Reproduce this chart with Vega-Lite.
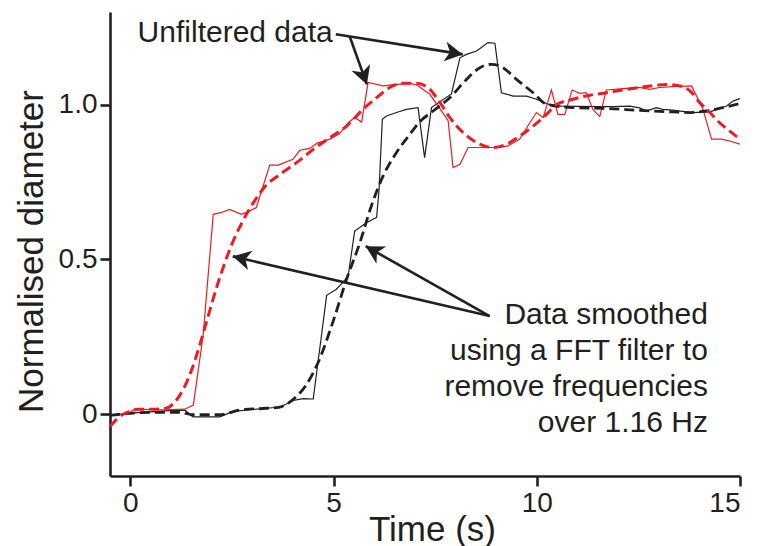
{
  "$schema": "https://vega.github.io/schema/vega-lite/v6.json",
  "width": 630,
  "height": 464,
  "autosize": "none",
  "padding": {"left": 110, "top": 12, "right": 19, "bottom": 70},
  "config": {
    "view": {"stroke": null},
    "font": "Liberation Sans",
    "axis": {
      "grid": false,
      "domainColor": "#231f20",
      "domainWidth": 2.6,
      "tickColor": "#231f20",
      "tickWidth": 2.6,
      "tickSize": 10,
      "labelColor": "#231f20",
      "labelFont": "Liberation Sans",
      "labelFontSize": 28,
      "labelPadding": 3,
      "titleColor": "#231f20",
      "titleFont": "Liberation Sans",
      "titleFontSize": 35,
      "titleFontWeight": "normal"
    }
  },
  "datasets": {
    "curves": [
      {"series": "black_raw", "t": -0.5, "d": -0.004},
      {"series": "black_raw", "t": 0, "d": 0.003},
      {"series": "black_raw", "t": 0.6, "d": 0.008},
      {"series": "black_raw", "t": 1.05, "d": 0.012},
      {"series": "black_raw", "t": 1.35, "d": 0.012},
      {"series": "black_raw", "t": 1.54, "d": -0.009},
      {"series": "black_raw", "t": 2.2, "d": -0.009},
      {"series": "black_raw", "t": 2.53, "d": 0.009},
      {"series": "black_raw", "t": 3.0, "d": 0.015},
      {"series": "black_raw", "t": 3.35, "d": 0.019},
      {"series": "black_raw", "t": 3.69, "d": 0.023},
      {"series": "black_raw", "t": 4.01, "d": 0.044},
      {"series": "black_raw", "t": 4.25, "d": 0.05},
      {"series": "black_raw", "t": 4.5, "d": 0.049},
      {"series": "black_raw", "t": 4.62, "d": 0.17},
      {"series": "black_raw", "t": 4.83, "d": 0.384},
      {"series": "black_raw", "t": 5.07, "d": 0.404},
      {"series": "black_raw", "t": 5.23, "d": 0.426},
      {"series": "black_raw", "t": 5.36, "d": 0.447},
      {"series": "black_raw", "t": 5.52, "d": 0.592},
      {"series": "black_raw", "t": 5.81, "d": 0.619},
      {"series": "black_raw", "t": 6.06, "d": 0.636},
      {"series": "black_raw", "t": 6.12, "d": 0.727},
      {"series": "black_raw", "t": 6.2, "d": 0.953},
      {"series": "black_raw", "t": 6.3, "d": 0.964},
      {"series": "black_raw", "t": 6.55, "d": 0.975},
      {"series": "black_raw", "t": 6.79, "d": 0.985},
      {"series": "black_raw", "t": 7.08, "d": 0.991},
      {"series": "black_raw", "t": 7.24, "d": 0.829},
      {"series": "black_raw", "t": 7.41, "d": 0.991},
      {"series": "black_raw", "t": 7.9, "d": 1.035},
      {"series": "black_raw", "t": 8.11, "d": 1.152},
      {"series": "black_raw", "t": 8.27, "d": 1.163},
      {"series": "black_raw", "t": 8.52, "d": 1.174},
      {"series": "black_raw", "t": 8.8, "d": 1.201},
      {"series": "black_raw", "t": 8.97, "d": 1.199},
      {"series": "black_raw", "t": 9.13, "d": 1.039},
      {"series": "black_raw", "t": 9.42, "d": 1.028},
      {"series": "black_raw", "t": 9.75, "d": 1.028},
      {"series": "black_raw", "t": 9.99, "d": 1.018},
      {"series": "black_raw", "t": 10.28, "d": 1.002},
      {"series": "black_raw", "t": 10.6, "d": 0.996},
      {"series": "black_raw", "t": 11.0, "d": 0.995},
      {"series": "black_raw", "t": 11.5, "d": 0.994},
      {"series": "black_raw", "t": 11.88, "d": 0.994},
      {"series": "black_raw", "t": 12.29, "d": 0.996},
      {"series": "black_raw", "t": 12.53, "d": 0.99},
      {"series": "black_raw", "t": 12.7, "d": 0.98},
      {"series": "black_raw", "t": 12.94, "d": 0.991},
      {"series": "black_raw", "t": 13.1, "d": 0.985},
      {"series": "black_raw", "t": 13.35, "d": 0.983},
      {"series": "black_raw", "t": 13.81, "d": 0.975},
      {"series": "black_raw", "t": 14.26, "d": 0.977},
      {"series": "black_raw", "t": 14.67, "d": 0.996},
      {"series": "black_raw", "t": 14.83, "d": 1.012},
      {"series": "black_raw", "t": 15.0, "d": 1.02},

      {"series": "red_raw", "t": 0.0, "d": 0.008},
      {"series": "red_raw", "t": 0.11, "d": 0.016},
      {"series": "red_raw", "t": 0.5, "d": 0.015},
      {"series": "red_raw", "t": 0.85, "d": 0.014},
      {"series": "red_raw", "t": 1.34, "d": 0.016},
      {"series": "red_raw", "t": 1.55, "d": 0.029},
      {"series": "red_raw", "t": 1.79, "d": 0.253},
      {"series": "red_raw", "t": 2.04, "d": 0.646},
      {"series": "red_raw", "t": 2.24, "d": 0.652},
      {"series": "red_raw", "t": 2.45, "d": 0.662},
      {"series": "red_raw", "t": 2.73, "d": 0.646},
      {"series": "red_raw", "t": 2.94, "d": 0.657},
      {"series": "red_raw", "t": 3.1, "d": 0.668},
      {"series": "red_raw", "t": 3.43, "d": 0.805},
      {"series": "red_raw", "t": 3.64, "d": 0.805},
      {"series": "red_raw", "t": 4.0, "d": 0.824},
      {"series": "red_raw", "t": 4.17, "d": 0.853},
      {"series": "red_raw", "t": 4.41, "d": 0.859},
      {"series": "red_raw", "t": 4.6, "d": 0.876},
      {"series": "red_raw", "t": 4.91, "d": 0.889},
      {"series": "red_raw", "t": 5.15, "d": 0.907},
      {"series": "red_raw", "t": 5.36, "d": 0.942},
      {"series": "red_raw", "t": 5.52, "d": 0.959},
      {"series": "red_raw", "t": 5.69, "d": 0.944},
      {"series": "red_raw", "t": 5.85, "d": 1.072},
      {"series": "red_raw", "t": 6.22, "d": 1.061},
      {"series": "red_raw", "t": 6.55, "d": 1.066},
      {"series": "red_raw", "t": 6.88, "d": 1.069},
      {"series": "red_raw", "t": 7.05, "d": 1.064},
      {"series": "red_raw", "t": 7.37, "d": 1.034},
      {"series": "red_raw", "t": 7.74, "d": 0.964},
      {"series": "red_raw", "t": 7.82, "d": 0.948},
      {"series": "red_raw", "t": 7.94, "d": 0.797},
      {"series": "red_raw", "t": 8.11, "d": 0.808},
      {"series": "red_raw", "t": 8.31, "d": 0.862},
      {"series": "red_raw", "t": 8.6, "d": 0.862},
      {"series": "red_raw", "t": 9.09, "d": 0.862},
      {"series": "red_raw", "t": 9.29, "d": 0.867},
      {"series": "red_raw", "t": 9.58, "d": 0.889},
      {"series": "red_raw", "t": 9.83, "d": 0.942},
      {"series": "red_raw", "t": 9.99, "d": 0.975},
      {"series": "red_raw", "t": 10.16, "d": 0.959},
      {"series": "red_raw", "t": 10.36, "d": 1.048},
      {"series": "red_raw", "t": 10.52, "d": 0.969},
      {"series": "red_raw", "t": 10.69, "d": 0.969},
      {"series": "red_raw", "t": 10.87, "d": 1.048},
      {"series": "red_raw", "t": 11.06, "d": 1.037},
      {"series": "red_raw", "t": 11.22, "d": 1.039},
      {"series": "red_raw", "t": 11.38, "d": 0.985},
      {"series": "red_raw", "t": 11.55, "d": 0.962},
      {"series": "red_raw", "t": 11.71, "d": 1.048},
      {"series": "red_raw", "t": 12.12, "d": 1.052},
      {"series": "red_raw", "t": 12.53, "d": 1.056},
      {"series": "red_raw", "t": 12.78, "d": 1.05},
      {"series": "red_raw", "t": 13.02, "d": 1.056},
      {"series": "red_raw", "t": 13.35, "d": 1.059},
      {"series": "red_raw", "t": 13.81, "d": 1.061},
      {"series": "red_raw", "t": 14.09, "d": 0.985},
      {"series": "red_raw", "t": 14.3, "d": 0.889},
      {"series": "red_raw", "t": 14.54, "d": 0.889},
      {"series": "red_raw", "t": 14.75, "d": 0.883},
      {"series": "red_raw", "t": 15.0, "d": 0.873},

      {"series": "black_smooth", "t": -0.5, "d": -0.004},
      {"series": "black_smooth", "t": 0.48, "d": 0.006},
      {"series": "black_smooth", "t": 1.22, "d": 0.006},
      {"series": "black_smooth", "t": 1.54, "d": -0.002},
      {"series": "black_smooth", "t": 2.2, "d": -0.002},
      {"series": "black_smooth", "t": 2.69, "d": 0.013},
      {"series": "black_smooth", "t": 3.35, "d": 0.019},
      {"series": "black_smooth", "t": 3.68, "d": 0.023},
      {"series": "black_smooth", "t": 4.0, "d": 0.047},
      {"series": "black_smooth", "t": 4.33, "d": 0.095},
      {"series": "black_smooth", "t": 4.62, "d": 0.167},
      {"series": "black_smooth", "t": 4.99, "d": 0.3},
      {"series": "black_smooth", "t": 5.32, "d": 0.436},
      {"series": "black_smooth", "t": 5.65, "d": 0.555},
      {"series": "black_smooth", "t": 5.93, "d": 0.673},
      {"series": "black_smooth", "t": 6.22, "d": 0.77},
      {"series": "black_smooth", "t": 6.55, "d": 0.846},
      {"series": "black_smooth", "t": 6.88, "d": 0.905},
      {"series": "black_smooth", "t": 7.12, "d": 0.945},
      {"series": "black_smooth", "t": 7.45, "d": 0.98},
      {"series": "black_smooth", "t": 7.86, "d": 1.023},
      {"series": "black_smooth", "t": 8.27, "d": 1.082},
      {"series": "black_smooth", "t": 8.6, "d": 1.12},
      {"series": "black_smooth", "t": 8.89, "d": 1.131},
      {"series": "black_smooth", "t": 9.17, "d": 1.12},
      {"series": "black_smooth", "t": 9.5, "d": 1.082},
      {"series": "black_smooth", "t": 9.91, "d": 1.039},
      {"series": "black_smooth", "t": 10.24, "d": 1.002},
      {"series": "black_smooth", "t": 10.89, "d": 0.991},
      {"series": "black_smooth", "t": 11.71, "d": 0.988},
      {"series": "black_smooth", "t": 12.53, "d": 0.982},
      {"series": "black_smooth", "t": 13.35, "d": 0.977},
      {"series": "black_smooth", "t": 13.76, "d": 0.975},
      {"series": "black_smooth", "t": 14.17, "d": 0.98},
      {"series": "black_smooth", "t": 14.58, "d": 0.991},
      {"series": "black_smooth", "t": 15.0, "d": 1.004},

      {"series": "red_smooth", "t": -0.5, "d": -0.04},
      {"series": "red_smooth", "t": -0.3, "d": -0.012},
      {"series": "red_smooth", "t": 0.0, "d": 0.01},
      {"series": "red_smooth", "t": 0.2, "d": 0.016},
      {"series": "red_smooth", "t": 0.6, "d": 0.016},
      {"series": "red_smooth", "t": 0.85, "d": 0.018},
      {"series": "red_smooth", "t": 1.05, "d": 0.033},
      {"series": "red_smooth", "t": 1.3, "d": 0.08},
      {"series": "red_smooth", "t": 1.5, "d": 0.14},
      {"series": "red_smooth", "t": 1.7, "d": 0.22},
      {"series": "red_smooth", "t": 1.9, "d": 0.31},
      {"series": "red_smooth", "t": 2.1, "d": 0.4},
      {"series": "red_smooth", "t": 2.3, "d": 0.48},
      {"series": "red_smooth", "t": 2.5, "d": 0.55},
      {"series": "red_smooth", "t": 2.75, "d": 0.62},
      {"series": "red_smooth", "t": 3.06, "d": 0.69},
      {"series": "red_smooth", "t": 3.31, "d": 0.735},
      {"series": "red_smooth", "t": 3.68, "d": 0.775},
      {"series": "red_smooth", "t": 4.09, "d": 0.813},
      {"series": "red_smooth", "t": 4.5, "d": 0.856},
      {"series": "red_smooth", "t": 4.91, "d": 0.894},
      {"series": "red_smooth", "t": 5.32, "d": 0.931},
      {"series": "red_smooth", "t": 5.73, "d": 0.986},
      {"series": "red_smooth", "t": 6.06, "d": 1.023},
      {"series": "red_smooth", "t": 6.38, "d": 1.056},
      {"series": "red_smooth", "t": 6.71, "d": 1.07},
      {"series": "red_smooth", "t": 7.04, "d": 1.07},
      {"series": "red_smooth", "t": 7.37, "d": 1.05},
      {"series": "red_smooth", "t": 7.62, "d": 1.007},
      {"series": "red_smooth", "t": 7.86, "d": 0.959},
      {"series": "red_smooth", "t": 8.19, "d": 0.91},
      {"series": "red_smooth", "t": 8.52, "d": 0.878},
      {"series": "red_smooth", "t": 8.93, "d": 0.862},
      {"series": "red_smooth", "t": 9.25, "d": 0.872},
      {"series": "red_smooth", "t": 9.58, "d": 0.899},
      {"series": "red_smooth", "t": 9.91, "d": 0.931},
      {"series": "red_smooth", "t": 10.24, "d": 0.969},
      {"series": "red_smooth", "t": 10.48, "d": 1.0},
      {"series": "red_smooth", "t": 10.89, "d": 1.018},
      {"series": "red_smooth", "t": 11.3, "d": 1.031},
      {"series": "red_smooth", "t": 11.71, "d": 1.039},
      {"series": "red_smooth", "t": 12.12, "d": 1.048},
      {"series": "red_smooth", "t": 12.53, "d": 1.056},
      {"series": "red_smooth", "t": 12.94, "d": 1.063},
      {"series": "red_smooth", "t": 13.19, "d": 1.066},
      {"series": "red_smooth", "t": 13.52, "d": 1.061},
      {"series": "red_smooth", "t": 13.77, "d": 1.045},
      {"series": "red_smooth", "t": 14.01, "d": 1.007},
      {"series": "red_smooth", "t": 14.26, "d": 0.975},
      {"series": "red_smooth", "t": 14.5, "d": 0.942},
      {"series": "red_smooth", "t": 14.75, "d": 0.915},
      {"series": "red_smooth", "t": 15.0, "d": 0.889}
    ],
    "arrows": [
      {"x0": 5.055, "y0": 1.228, "x1": 8.18, "y1": 1.163},
      {"x0": 5.4, "y0": 1.22, "x1": 5.82, "y1": 1.066},
      {"x0": 8.84, "y0": 0.317, "x1": 2.52, "y1": 0.51},
      {"x0": 8.84, "y0": 0.317, "x1": 5.79, "y1": 0.543}
    ],
    "notes": [
      {"label": "Unfiltered data", "x": 4.98, "y": 1.202},
      {"label": "Data smoothed\nusing a FFT filter to\nremove frequencies\nover 1.16 Hz", "x": 14.21, "y": 0.292}
    ]
  },
  "layer": [
    {
      "data": {"name": "curves"},
      "transform": [{"filter": "datum.series === 'black_raw'"}],
      "mark": {"type": "line", "color": "#231f20", "strokeWidth": 1.2, "clip": true},
      "encoding": {
        "x": {
          "field": "t", "type": "quantitative",
          "scale": {"domain": [-0.5, 15], "nice": false, "zero": false},
          "axis": {"values": [0, 5, 10, 15], "title": "Time (s)", "titleX": 322, "titleY": 64, "titleBaseline": "alphabetic"}
        },
        "y": {
          "field": "d", "type": "quantitative",
          "scale": {"domain": [-0.2, 1.3], "nice": false, "zero": false},
          "axis": {
            "values": [0, 0.5, 1],
            "labelExpr": "datum.value === 0 ? '0' : format(datum.value, '.1f')",
            "title": "Normalised diameter",
            "titleX": -68, "titleY": 239, "titleAngle": -90, "titleAlign": "center", "titleBaseline": "alphabetic"
          }
        }
      }
    },
    {
      "data": {"name": "curves"},
      "transform": [{"filter": "datum.series === 'red_raw'"}],
      "mark": {"type": "line", "color": "#ed1c24", "strokeWidth": 1.2, "clip": true},
      "encoding": {
        "x": {"field": "t", "type": "quantitative"},
        "y": {"field": "d", "type": "quantitative"}
      }
    },
    {
      "data": {"name": "curves"},
      "transform": [{"filter": "datum.series === 'black_smooth'"}],
      "mark": {"type": "line", "color": "#231f20", "strokeWidth": 2.8, "strokeDash": [10, 5], "interpolate": "monotone", "clip": true},
      "encoding": {
        "x": {"field": "t", "type": "quantitative"},
        "y": {"field": "d", "type": "quantitative"}
      }
    },
    {
      "data": {"name": "curves"},
      "transform": [{"filter": "datum.series === 'red_smooth'"}],
      "mark": {"type": "line", "color": "#ed1c24", "strokeWidth": 3, "strokeDash": [10, 5], "interpolate": "monotone", "clip": true},
      "encoding": {
        "x": {"field": "t", "type": "quantitative"},
        "y": {"field": "d", "type": "quantitative"}
      }
    },
    {
      "data": {"name": "arrows"},
      "mark": {"type": "rule", "color": "#231f20", "strokeWidth": 2.6},
      "encoding": {
        "x": {"field": "x0", "type": "quantitative"},
        "y": {"field": "y0", "type": "quantitative"},
        "x2": {"field": "x1"},
        "y2": {"field": "y1"}
      }
    },
    {
      "data": {"name": "arrows"},
      "transform": [{"calculate": "atan2((datum.x1 - datum.x0) * 40.65, (datum.y1 - datum.y0) * 309.5) * 180 / PI", "as": "ang"}],
      "mark": {"type": "point", "shape": "M0,0 L0.55,1 L0,0.72 L-0.55,1 Z", "filled": true, "size": 1296, "color": "#231f20", "opacity": 1, "strokeWidth": 0},
      "encoding": {
        "x": {"field": "x1", "type": "quantitative"},
        "y": {"field": "y1", "type": "quantitative"},
        "angle": {"field": "ang", "type": "quantitative", "scale": null}
      }
    },
    {
      "data": {"name": "notes"},
      "mark": {"type": "text", "align": "right", "baseline": "alphabetic", "fontSize": 30, "lineHeight": 36, "lineBreak": "\n", "color": "#231f20", "font": "Liberation Sans"},
      "encoding": {
        "x": {"field": "x", "type": "quantitative"},
        "y": {"field": "y", "type": "quantitative"},
        "text": {"field": "label"}
      }
    }
  ]
}
